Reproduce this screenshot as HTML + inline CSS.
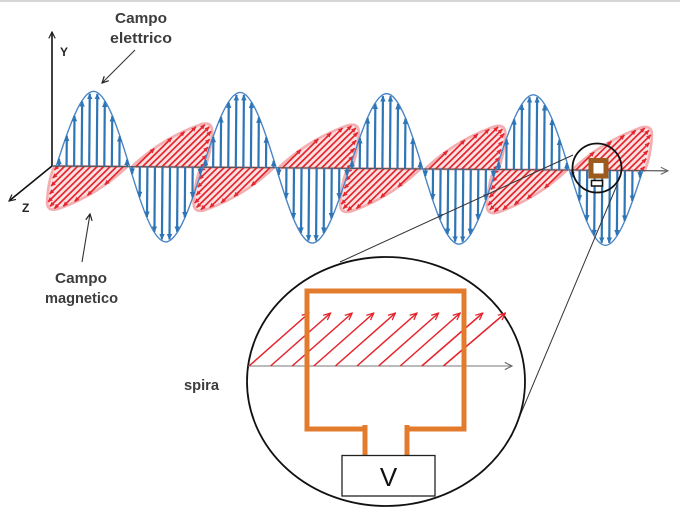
<!DOCTYPE html>
<html>
<head>
<meta charset="utf-8">
<style>
  html,body{margin:0;padding:0;background:#fff;}
  svg{display:block;}
  text{font-family:"Liberation Sans", Arial, sans-serif;}
</style>
</head>
<body>
<svg width="680" height="518" viewBox="0 0 680 518" xmlns="http://www.w3.org/2000/svg">
  <defs>
    <marker id="bh" viewBox="0 0 10 10" refX="9" refY="5" markerWidth="6" markerHeight="6" markerUnits="userSpaceOnUse" orient="auto">
      <path d="M0,0.5 L10,5 L0,9.5 z" fill="#2e75b6"/>
    </marker>
    <marker id="rh" viewBox="0 0 10 10" refX="9" refY="5" markerWidth="5" markerHeight="5" markerUnits="userSpaceOnUse" orient="auto">
      <path d="M0,0.5 L10,5 L0,9.5 z" fill="#e5262e"/>
    </marker>
    <marker id="oh" viewBox="0 0 10 10" refX="9" refY="5" markerWidth="8" markerHeight="8" markerUnits="userSpaceOnUse" orient="auto">
      <path d="M1,1 L9,5 L1,9" fill="none" stroke="#222" stroke-width="1.5"/>
    </marker>
    <marker id="gh" viewBox="0 0 10 10" refX="9" refY="5" markerWidth="9" markerHeight="9" markerUnits="userSpaceOnUse" orient="auto">
      <path d="M1,1 L9,5 L1,9" fill="none" stroke="#666" stroke-width="1.2"/>
    </marker>
    <marker id="ch" viewBox="0 0 10 10" refX="9" refY="5" markerWidth="8" markerHeight="8" markerUnits="userSpaceOnUse" orient="auto">
      <path d="M0,1 L9,5 L0,9" fill="none" stroke="#e5232b" stroke-width="1.6"/>
    </marker>

    <!-- blue upward lobe template -->
    <g id="bl">
      <path d="M0,0 C11.95,-38.4 24.25,-75 36.65,-75 C49.05,-75 61.35,-38.4 73.3,0" fill="none" stroke="#4a85c6" stroke-width="1.4"/>
      <g stroke="#2e75b6" stroke-width="2.2">
        <line x1="2.7" y1="0" x2="2.7" y2="-7.2" marker-end="url(#bh)"/>
        <line x1="10.25" y1="0" x2="10.25" y2="-30.4" marker-end="url(#bh)"/>
        <line x1="17.8" y1="0" x2="17.8" y2="-50.3" marker-end="url(#bh)"/>
        <line x1="25.35" y1="0" x2="25.35" y2="-64.9" marker-end="url(#bh)"/>
        <line x1="32.9" y1="0" x2="32.9" y2="-72.5" marker-end="url(#bh)"/>
        <line x1="40.45" y1="0" x2="40.45" y2="-72.5" marker-end="url(#bh)"/>
        <line x1="48" y1="0" x2="48" y2="-64.8" marker-end="url(#bh)"/>
        <line x1="55.55" y1="0" x2="55.55" y2="-50.2" marker-end="url(#bh)"/>
        <line x1="63.1" y1="0" x2="63.1" y2="-30.3" marker-end="url(#bh)"/>
        <line x1="70.65" y1="0" x2="70.65" y2="-7.0" marker-end="url(#bh)"/>
      </g>
    </g>

    <!-- red lower (down-left) lobe template -->
    <g id="rl">
      <path d="M-2,0 L71,0 Q41.5,28.5 2,43 Q-9,46 -9,36 Q-8,14 -2,0 Z" fill="#fbe2e2" stroke="#f2aeb0" stroke-width="2.6" stroke-linejoin="round"/>
      <g stroke="#e5262e" stroke-width="1.7">
        <line x1="2" y1="0" x2="-1.9" y2="3.9" marker-end="url(#rh)"/>
        <line x1="8.5" y1="0" x2="-3.5" y2="12" marker-end="url(#rh)"/>
        <line x1="15" y1="0" x2="-5" y2="20" marker-end="url(#rh)"/>
        <line x1="21.5" y1="0" x2="-6.5" y2="28" marker-end="url(#rh)"/>
        <line x1="28" y1="0" x2="-7.9" y2="35.9" marker-end="url(#rh)"/>
        <line x1="34.5" y1="0" x2="-6" y2="40.4" marker-end="url(#rh)"/>
        <line x1="41" y1="0" x2="-1.6" y2="42.5" marker-end="url(#rh)"/>
        <line x1="47.5" y1="0" x2="7.3" y2="40.2" marker-end="url(#rh)"/>
        <line x1="54" y1="0" x2="18.6" y2="35.4" marker-end="url(#rh)"/>
        <line x1="60.5" y1="0" x2="31.4" y2="29.1" marker-end="url(#rh)"/>
        <line x1="67" y1="0" x2="48.7" y2="18.2" marker-end="url(#rh)"/>
      </g>
    </g>
  </defs>

  <!-- top border -->
  <rect x="0" y="0" width="680" height="2" fill="#d6d6d6"/>

  <!-- Y axis and Z axis -->
  <line x1="52" y1="166" x2="52" y2="32" stroke="#111" stroke-width="1.6" marker-end="url(#oh)"/>
  <line x1="52" y1="166" x2="9" y2="201" stroke="#111" stroke-width="1.6" marker-end="url(#oh)"/>
  <text x="60" y="56" font-size="12" font-weight="bold" fill="#222">Y</text>
  <text x="22" y="212" font-size="12" font-weight="bold" fill="#222">Z</text>

  <!-- wave group (slightly tilted) -->
  <g transform="rotate(0.45 52 166)">
    <!-- red B lobes -->
    <use href="#rl" transform="translate(56.3,166)"/>
    <use href="#rl" transform="translate(202.9,166)"/>
    <use href="#rl" transform="translate(349.5,166)"/>
    <use href="#rl" transform="translate(496.1,166)"/>
    <use href="#rl" transform="translate(202.9,166) rotate(180)"/>
    <use href="#rl" transform="translate(349.5,166) rotate(180)"/>
    <use href="#rl" transform="translate(496.1,166) rotate(180)"/>
    <use href="#rl" transform="translate(642.7,166) rotate(180)"/>

    <!-- propagation axis -->
    <line x1="52" y1="166" x2="668" y2="166" stroke="#555" stroke-width="1.2" marker-end="url(#gh)"/>

    <!-- blue E lobes -->
    <use href="#bl" transform="translate(56.3,166)"/>
    <use href="#bl" transform="translate(129.6,166) scale(1,-1)"/>
    <use href="#bl" transform="translate(202.9,166)"/>
    <use href="#bl" transform="translate(276.2,166) scale(1,-1)"/>
    <use href="#bl" transform="translate(349.5,166)"/>
    <use href="#bl" transform="translate(422.8,166) scale(1,-1)"/>
    <use href="#bl" transform="translate(496.1,166)"/>
    <use href="#bl" transform="translate(569.4,166) scale(1,-1)"/>
  </g>

  <!-- labels -->
  <text x="115" y="23" font-size="15" font-weight="bold" fill="#3c3c3c" textLength="52" lengthAdjust="spacingAndGlyphs">Campo</text>
  <text x="110" y="43" font-size="15" font-weight="bold" fill="#3c3c3c" textLength="62" lengthAdjust="spacingAndGlyphs">elettrico</text>
  <line x1="135" y1="50" x2="102" y2="83" stroke="#333" stroke-width="1.1" marker-end="url(#oh)"/>

  <text x="55" y="283" font-size="15" font-weight="bold" fill="#3c3c3c" textLength="52" lengthAdjust="spacingAndGlyphs">Campo</text>
  <text x="45" y="303" font-size="15" font-weight="bold" fill="#3c3c3c" textLength="73" lengthAdjust="spacingAndGlyphs">magnetico</text>
  <line x1="82" y1="262" x2="90" y2="214" stroke="#333" stroke-width="1.1" marker-end="url(#oh)"/>

  <!-- small magnifier circle -->
  <circle cx="597" cy="168" r="24.5" fill="none" stroke="#111" stroke-width="1.8"/>
  <rect x="591" y="160.5" width="15" height="15.5" fill="#fff" stroke="#9c5b1c" stroke-width="5"/>
  <rect x="591.5" y="180.5" width="11" height="5.5" fill="#fff" stroke="#111" stroke-width="1.5"/>

  <!-- connecting lines -->
  <line x1="573" y1="155" x2="340" y2="262" stroke="#333" stroke-width="1"/>
  <line x1="617" y1="185" x2="511" y2="437" stroke="#333" stroke-width="1"/>

  <!-- big circle -->
  <ellipse cx="386" cy="381.5" rx="139" ry="124.5" fill="none" stroke="#111" stroke-width="1.8"/>

  <!-- inner axis -->
  <line x1="248" y1="366" x2="512" y2="366" stroke="#777" stroke-width="1" marker-end="url(#gh)"/>

  <!-- red arrows in circle -->
  <g stroke="#e5232b" stroke-width="1.5">
    <line x1="249" y1="366" x2="309" y2="313" marker-end="url(#ch)"/>
    <line x1="270.6" y1="366" x2="330.6" y2="313" marker-end="url(#ch)"/>
    <line x1="292.2" y1="366" x2="352.2" y2="313" marker-end="url(#ch)"/>
    <line x1="313.8" y1="366" x2="373.8" y2="313" marker-end="url(#ch)"/>
    <line x1="335.4" y1="366" x2="395.4" y2="313" marker-end="url(#ch)"/>
    <line x1="357" y1="366" x2="417" y2="313" marker-end="url(#ch)"/>
    <line x1="378.6" y1="366" x2="438.6" y2="313" marker-end="url(#ch)"/>
    <line x1="400.2" y1="366" x2="460.2" y2="313" marker-end="url(#ch)"/>
    <line x1="421.8" y1="366" x2="482.8" y2="313" marker-end="url(#ch)"/>
    <line x1="443.4" y1="366" x2="505.4" y2="313" marker-end="url(#ch)"/>
  </g>

  <!-- orange loop (spira) -->
  <g stroke="#e37b2d" stroke-width="5" fill="none" stroke-linejoin="miter">
    <path d="M365,429 L307,429 L307,291 L464,291 L464,429 L407,429"/>
    <line x1="365" y1="425" x2="365" y2="456"/>
    <line x1="407" y1="425" x2="407" y2="456"/>
  </g>

  <!-- V box -->
  <rect x="342" y="455.5" width="93" height="40.5" fill="#fff" stroke="#222" stroke-width="1.3"/>
  <text x="388.5" y="486" font-size="26" fill="#111" text-anchor="middle">V</text>

  <text x="184" y="390" font-size="15" font-weight="bold" fill="#3c3c3c" textLength="35" lengthAdjust="spacingAndGlyphs">spira</text>
</svg>
</body>
</html>
